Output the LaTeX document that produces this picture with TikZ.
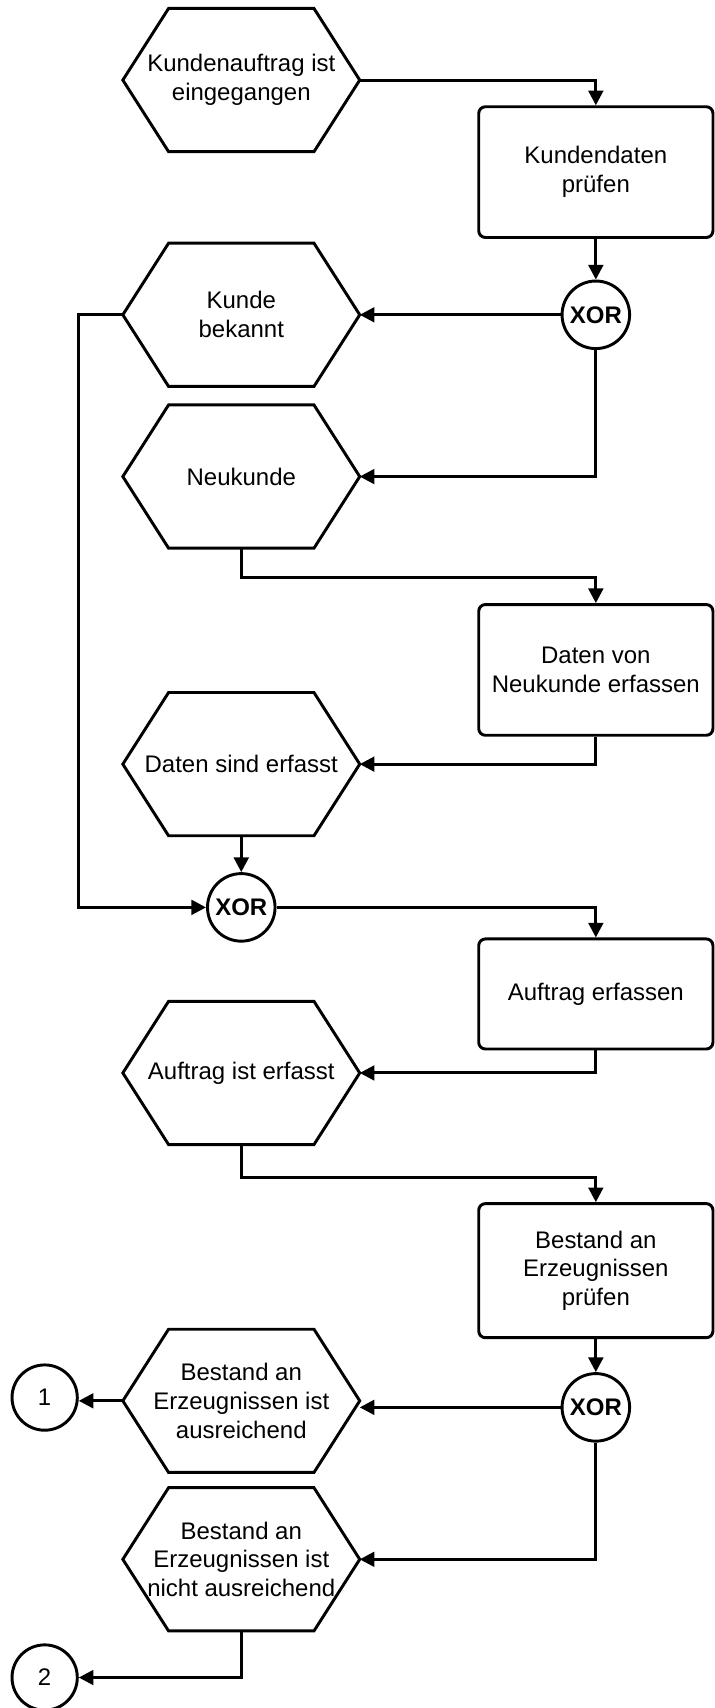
\documentclass[tikz,border=0pt]{standalone}
\usepackage{fontspec}
\setmainfont{Liberation Sans}
\usetikzlibrary{arrows.meta,calc}
\begin{document}
\begin{tikzpicture}[x=0.8175pt,y=-0.8175pt,
  line/.style={line width=2.2pt, line join=miter},
  arr/.style={line, -{Triangle[length=11pt,width=11pt]}},
  txt/.style={font=\fontsize{18pt}{21.6pt}\selectfont, align=center, inner sep=0pt},
  hexa/.style={txt, minimum width=177.4pt, minimum height=107.1pt},
  func/.style={txt, draw, line, rounded corners=5pt, minimum width=175.8pt},
  gate/.style={draw, line, circle, minimum size=50.7pt, inner sep=0pt, font=\fontsize{18pt}{21.6pt}\selectfont\bfseries},
  conn/.style={draw, line, circle, minimum size=49pt, inner sep=0pt, font=\fontsize{18pt}{21.6pt}\selectfont}]
\useasboundingbox (0,0) rectangle (656,1568);
\newcommand\drawhex[1]{\draw[line] (#1.west) -- ($(#1.north west)+(42,0)$) -- ($(#1.north east)+(-42,0)$) -- (#1.east) -- ($(#1.south east)+(-42,0)$) -- ($(#1.south west)+(42,0)$) -- cycle;}

\node[hexa] (h1) at (221.5,73.5) {Kundenauftrag ist\\eingegangen};
\node[func, minimum height=98.1pt] (r1) at (547,158) {Kundendaten\\prüfen};
\node[gate] (x1) at (547,289) {XOR};
\node[hexa] (h2) at (221.5,289) {Kunde\\bekannt};
\node[hexa] (h3) at (221.5,437.5) {Neukunde};
\node[func, minimum height=98.1pt] (r2) at (547,615) {Daten von\\Neukunde erfassen};
\node[hexa] (h4) at (221.5,701.5) {Daten sind erfasst};
\node[gate] (x2) at (221.5,833) {XOR};
\node[func, minimum height=82.6pt] (r3) at (547,912.5) {Auftrag erfassen};
\node[hexa] (h5) at (221.5,985) {Auftrag ist erfasst};
\node[func, minimum height=100.6pt] (r4) at (547,1166.5) {Bestand an\\Erzeugnissen\\prüfen};
\node[gate] (x3) at (547,1292) {XOR};
\node[hexa] (h6) at (221.5,1286) {Bestand an\\Erzeugnissen ist\\ausreichend};
\node[conn] (c1) at (41,1283) {1};
\node[hexa] (h7) at (221.5,1431.5) {Bestand an\\Erzeugnissen ist\\nicht ausreichend};
\node[conn] (c2) at (41,1540) {2};

\drawhex{h1}\drawhex{h2}\drawhex{h3}\drawhex{h4}\drawhex{h5}\drawhex{h6}\drawhex{h7}

\draw[arr] (h1.east) -| (r1.north);
\draw[arr] (r1.south) -- (x1.north);
\draw[arr] (x1.west) -- (h2.east);
\draw[arr] (x1.south) |- (h3.east);
\draw[arr] (h3.south) -- ++(0,27) -| (r2.north);
\draw[arr] (r2.south) |- (h4.east);
\draw[arr] (h4.south) -- (x2.north);
\draw[arr] (h2.west) -- ++(-41,0) |- (x2.west);
\draw[arr] (x2.east) -| (r3.north);
\draw[arr] (r3.south) |- (h5.east);
\draw[arr] (h5.south) -- ++(0,30) -| (r4.north);
\draw[arr] (r4.south) -- (x3.north);
\draw[arr] (x3.west) -- (x3.west -| h6.east);
\draw[arr] (h6.west) -- (h6.west -| c1.east);
\draw[arr] (x3.south) |- (h7.east);
\draw[arr] (h7.south) |- (c2.east);
\end{tikzpicture}
\end{document}
